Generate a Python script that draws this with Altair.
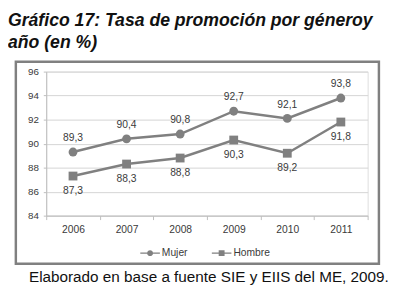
import altair as alt
import pandas as pd

anios = ["2006", "2007", "2008", "2009", "2010", "2011"]
mujer = [89.3, 90.4, 90.8, 92.7, 92.1, 93.8]
hombre = [87.3, 88.3, 88.8, 90.3, 89.2, 91.8]
series = ["Mujer", "Hombre"]
y_ticks = [84, 86, 88, 90, 92, 94, 96]

titulo1 = "Gráfico 17: Tasa de promoción por géneroy"
titulo2 = "año (en %)"
fuente = "Elaborado en base a fuente SIE y EIIS del ME, 2009."

rows = []
for a, m, h in zip(anios, mujer, hombre):
    rows.append({"anio": a, "serie": "Mujer", "valor": m})
    rows.append({"anio": a, "serie": "Hombre", "valor": h})
df = pd.DataFrame(rows)

GRAY = "#808080"
TXT = "#3a3a3a"
FONT = "Liberation Sans"

W, H = 328, 147

x_enc = alt.X(
    "anio:O",
    scale=alt.Scale(type="band", paddingInner=0, paddingOuter=0),
    axis=alt.Axis(
        title=None, labelAngle=0, tickBand="extent", grid=False,
        domainColor="#bdbdbd", tickColor="#bdbdbd", tickSize=4,
        labelPadding=5, labelFontSize=10.5, labelColor=TXT, labelFont=FONT,
    ),
)
y_enc = alt.Y(
    "valor:Q",
    scale=alt.Scale(domain=[84, 96], nice=False, zero=False),
    axis=alt.Axis(
        title=None, values=y_ticks, grid=True, gridColor="#d4d4d4",
        domainColor="#bdbdbd", tickColor="#bdbdbd", tickSize=3,
        labelPadding=5, labelFontSize=10, labelColor=TXT, labelFont=FONT,
    ),
)

base = alt.Chart(df)

lines = base.mark_line(color=GRAY, strokeWidth=2.5).encode(
    x=x_enc, y=y_enc, detail="serie:N"
)

points = base.mark_point(filled=True, opacity=1, color=GRAY, size=81).encode(
    x=x_enc, y=y_enc,
    shape=alt.Shape("serie:N", scale=alt.Scale(domain=series, range=["circle", "square"]), legend=None),
)

lab_m = base.transform_filter("datum.serie == 'Mujer'").transform_calculate(
    lbl="replace(format(datum.valor, '.1f'), '.', ',')"
).mark_text(dy=-14, fontSize=10.5, color=TXT, font=FONT).encode(x=x_enc, y=y_enc, text="lbl:N")

lab_h = base.transform_filter("datum.serie == 'Hombre'").transform_calculate(
    lbl="replace(format(datum.valor, '.1f'), '.', ',')"
).mark_text(dy=15, fontSize=10.5, color=TXT, font=FONT).encode(x=x_enc, y=y_enc, text="lbl:N")

# legend glyphs: a thin bar (the line) plus a marker, all filled
circ_path = ("M-1,-0.075L1,-0.075L1,0.075L-1,0.075Z"
             "M0.3,0A0.3,0.3,0,1,1,-0.3,0A0.3,0.3,0,1,1,0.3,0Z")
sq_path = ("M-1,-0.075L1,-0.075L1,0.075L-1,0.075Z"
           "M-0.3,-0.3L0.3,-0.3L0.3,0.3L-0.3,0.3Z")

legend_layer = base.transform_filter("false").mark_point(
    filled=True, color=GRAY, size=400, opacity=1
).encode(
    x=x_enc, y=y_enc,
    shape=alt.Shape(
        "serie:N",
        scale=alt.Scale(domain=series, range=[circ_path, sq_path]),
        legend=alt.Legend(
            title=None, orient="none", direction="horizontal",
            legendX=96, legendY=175, symbolSize=400,
            symbolFillColor=GRAY, symbolStrokeWidth=0,
            symbolOpacity=1, labelFontSize=10.5, labelColor=TXT, labelFont=FONT,
            labelOffset=2, columnPadding=24,
        ),
    ),
)

one = alt.Data(values=[{"k": 1}])
box = alt.Chart(one).mark_rect(
    fill=None, stroke=GRAY, strokeWidth=2.5
).encode(
    x=alt.value(16 - 47), x2=alt.value(386.5 - 47),
    y=alt.value(60 - 70), y2=alt.value(266 - 70),
)

t1 = alt.Chart(one).mark_text(
    align="left", baseline="alphabetic", fontSize=18, fontWeight="bold",
    fontStyle="italic", font=FONT, color="#111111"
).encode(x=alt.value(8 - 47), y=alt.value(23 - 70), text=alt.value(titulo1))
t2 = alt.Chart(one).mark_text(
    align="left", baseline="alphabetic", fontSize=18, fontWeight="bold",
    fontStyle="italic", font=FONT, color="#111111"
).encode(x=alt.value(8 - 47), y=alt.value(46 - 70), text=alt.value(titulo2))
cap = alt.Chart(one).mark_text(
    align="center", baseline="alphabetic", fontSize=15.6, font=FONT, color="#111111"
).encode(x=alt.value(213 - 47), y=alt.value(285 - 70), text=alt.value(fuente))

chart = alt.layer(
    box, lines, points, lab_m, lab_h, legend_layer, t1, t2, cap
).resolve_scale(shape="independent").properties(
    width=W, height=H,
    autosize=alt.AutoSizeParams(type="none"),
    padding={"left": 39, "top": 62, "right": 32, "bottom": 75},
).configure_view(stroke=None).configure(background="white")

chart.save("out.html", embed_options={"renderer": "svg", "actions": False})
